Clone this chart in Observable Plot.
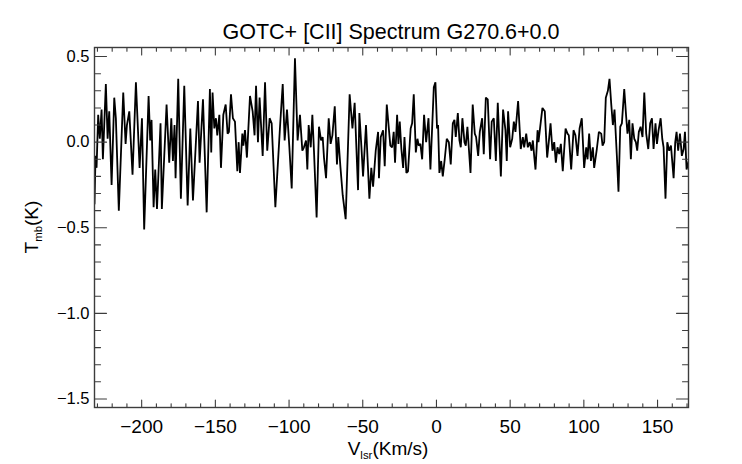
<!DOCTYPE html>
<html><head><meta charset="utf-8">
<script src="https://cdn.jsdelivr.net/npm/d3@7"></script>
<script src="https://cdn.jsdelivr.net/npm/@observablehq/plot@0.6"></script>
<style>
html,body{margin:0;padding:0;background:#fff;}
#chart{width:742px;height:464px;}
</style></head><body><div id="chart"></div>
<script>
const title = "GOTC+ [CII] Spectrum G270.6+0.0";
const xLabelParts = ["V", "lsr", "(Km/s)"];
const yLabelParts = ["T", "mb", "(K)"];
const xMajorTicks = [-200, -150, -100, -50, 0, 50, 100, 150];
const yMajorTicks = [-1.5, -1.0, -0.5, 0.0, 0.5];
const xMinorTicks = d3.range(-230, 171, 10).filter(v => v % 50 !== 0);
const yMinorTicks = d3.range(-15, 6, 1).map(v => v / 10).filter(v => Math.abs(v * 2 - Math.round(v * 2)) > 1e-9);

// velocity (km/s)
const vel = [
-232.0,-231.3,-230.6,-229.5,-228.4,-227.2,-226.3,-224.3,-223.1,-222.0,-220.4,-218.6,-217.5,-215.5,-212.5,-210.9,-210.0,-208.4,-206.2,-203.9,-201.4,-199.8,-198.3,-195.3,-194.2,-193.3,-191.9,-190.8,-189.6,-187.2,-186.3,-183.1,-181.3,-179.9,-178.8,-177.7,-177.0,-175.2,-173.4,-171.1,-168.8,-167.0,-165.2,-161.8,-160.7,-158.4,-155.9,-153.7,-152.8,-151.9,-150.7,-149.6,-148.7,-147.3,-146.2,-144.6,-143.0,-141.7,-140.8,-139.4,-138.1,-136.7,-135.1,-134.2,-133.3,-131.7,
-131.0,-129.9,-128.6,-126.5,-124.7,-123.4,-122.4,-121.1,-120.0,-117.9,-116.3,-114.8,-113.2,-111.8,-109.3,-106.2,-104.3,-103.0,-101.4,-99.8,-98.2,-96.0,-94.2,-92.6,-91.0,-89.9,-88.5,-87.6,-86.7,-85.3,-84.2,-83.1,-81.3,-79.7,-78.3,-77.2,-76.3,-74.9,-73.1,-71.8,-70.6,-69.0,-67.5,-66.6,-65.2,-63.6,-61.6,-58.9,-57.0,-55.5,-53.2,-52.3,-50.9,-49.8,-47.8,-45.5,-44.2,-43.0,-41.2,-39.6,-39.0,-37.8,-36.2,-35.1,-33.7,-31.3,
-30.1,-29.0,-28.1,-26.7,-25.8,-24.9,-23.8,-22.6,-21.7,-20.4,-19.3,-17.5,-16.5,-15.4,-14.0,-12.9,-12.0,-10.9,-9.7,-8.4,-7.0,-5.4,-4.1,-1.8,-0.7,0.4,1.1,2.0,3.2,4.3,5.6,7.0,8.4,9.7,11.1,12.2,13.1,14.5,15.6,16.5,17.6,19.0,19.9,21.0,23.1,24.6,26.0,26.9,28.3,29.4,31.0,32.1,33.5,34.8,36.4,37.5,38.9,40.3,41.6,43.7,45.2,46.8,47.7,48.6,50.0,51.4,52.5,53.6,55.4,57.2,58.6,59.5,60.9,62.0,63.3,64.5,65.4,66.3,67.2,68.6,69.2,
70.8,71.9,73.5,75.1,76.2,77.4,78.7,79.9,81.0,82.1,83.3,84.4,85.7,87.6,88.9,89.8,91.4,93.0,94.3,95.7,97.1,98.6,100.2,101.6,102.5,103.6,104.8,106.1,107.0,108.8,110.2,111.8,112.7,113.8,114.9,116.3,117.4,118.6,119.7,120.8,122.4,123.5,124.7,125.8,127.4,128.7,129.6,130.8,131.9,133.0,134.2,135.3,136.2,137.3,138.5,139.8,141.0,142.3,143.7,145.0,146.2,147.3,148.6,149.6,150.7,152.1,153.2,154.1,155.4,156.6,157.9,159.1,160.9,162.0,162.9,164.0,165.2,166.5,167.7,168.6,169.7,171.1
];
// main-beam temperature (K)
const tmb = [
-0.36,-0.08,-0.15,0.16,0.02,0.19,-0.10,0.34,0.02,0.18,-0.25,0.26,0.14,-0.40,0.29,-0.01,0.10,0.18,-0.19,0.35,-0.15,0.14,-0.51,0.27,0.01,0.13,-0.38,-0.16,-0.39,0.11,-0.39,0.22,-0.12,0.14,-0.11,0.10,-0.21,0.37,-0.33,0.33,-0.37,0.08,-0.34,0.24,-0.12,0.25,-0.41,0.31,-0.06,0.29,0.08,0.14,0.04,0.16,-0.15,0.16,0.22,0.05,0.06,0.28,0.14,0.12,-0.17,0.00,-0.18,0.05,
-0.02,0.07,-0.09,0.27,0.18,0.04,0.33,0.00,0.26,-0.08,0.35,-0.05,0.14,0.11,-0.38,0.08,0.34,0.01,0.19,-0.03,-0.27,0.49,0.01,0.16,-0.05,-0.03,0.01,-0.16,0.10,-0.03,0.16,-0.05,-0.44,0.09,0.01,0.03,-0.09,-0.21,0.14,-0.01,0.04,0.21,-0.13,0.03,-0.14,-0.31,-0.45,0.28,0.08,0.23,-0.28,0.17,-0.03,-0.20,0.10,-0.33,-0.15,-0.26,-0.05,0.06,-0.21,0.03,0.07,-0.14,0.22,-0.02,
-0.03,0.06,-0.12,0.16,-0.01,0.12,-0.04,-0.15,0.03,-0.18,-0.17,0.08,0.11,0.28,-0.06,0.02,-0.02,-0.01,-0.10,0.16,0.00,0.14,-0.16,0.32,0.35,0.08,0.10,-0.18,-0.11,-0.20,-0.10,0.02,0.00,-0.13,0.11,0.13,0.03,0.17,0.01,-0.03,0.14,0.00,-0.02,0.09,-0.18,0.22,0.05,0.03,-0.08,0.06,0.14,-0.07,0.26,0.25,-0.10,0.12,0.14,-0.11,0.23,-0.20,0.19,0.07,-0.11,0.18,-0.03,0.02,0.12,0.06,0.24,-0.04,0.03,-0.03,0.05,-0.03,0.00,-0.05,0.01,-0.08,-0.16,0.07,0.00,
0.12,0.20,0.18,-0.09,0.00,0.11,-0.05,0.00,-0.12,-0.03,-0.07,-0.01,-0.17,0.08,0.05,0.04,-0.16,0.07,0.04,-0.08,0.08,0.14,-0.15,-0.03,-0.10,0.05,-0.11,-0.03,-0.15,-0.04,0.06,0.05,-0.02,0.00,0.26,0.30,0.37,0.22,0.10,0.19,-0.08,-0.29,0.09,0.11,0.31,0.15,0.05,0.13,-0.10,0.11,0.02,0.00,-0.05,0.06,0.09,0.03,0.29,0.05,-0.04,0.11,0.14,-0.04,0.11,-0.01,0.07,0.14,0.02,-0.03,-0.33,0.00,-0.05,-0.02,-0.21,0.00,0.06,-0.05,0.05,-0.08,-0.04,0.06,-0.16,-0.11
];

const n = Math.min(vel.length, tmb.length);
const data = d3.range(n).map(i => ({v: vel[i], t: tmb[i]}));

const font = "'Liberation Sans', Arial, Helvetica, sans-serif";
const axisColor = "#3c3c3c";
const tickShape = {draw(ctx, l) { ctx.moveTo(0, 0); ctx.lineTo(0, -l); }};
const tickOpts = {anchor: "start", shape: tickShape, stroke: axisColor, strokeWidth: 1.1};

const plot = Plot.plot({
  width: 742, height: 464,
  marginLeft: 94, marginRight: 54, marginTop: 47, marginBottom: 57,
  style: {fontFamily: font, background: "white", color: "black", overflow: "visible"},
  x: {domain: [-232, 171]},
  y: {domain: [-1.55, 0.553]},
  marks: [
    Plot.line(data, {x: "v", y: "t", stroke: "black", strokeWidth: 1.8, strokeLinejoin: "miter", clip: true}),
    Plot.vector(xMajorTicks, {x: d => d, frameAnchor: "bottom", rotate: 0, length: 7.5, ...tickOpts}),
    Plot.vector(xMinorTicks, {x: d => d, frameAnchor: "bottom", rotate: 0, length: 3.7, ...tickOpts}),
    Plot.vector(xMajorTicks, {x: d => d, frameAnchor: "top", rotate: 180, length: 7.5, ...tickOpts}),
    Plot.vector(xMinorTicks, {x: d => d, frameAnchor: "top", rotate: 180, length: 3.7, ...tickOpts}),
    Plot.vector(yMajorTicks, {y: d => d, frameAnchor: "left", rotate: 90, length: 12, ...tickOpts}),
    Plot.vector(yMinorTicks, {y: d => d, frameAnchor: "left", rotate: 90, length: 6, ...tickOpts}),
    Plot.vector(yMajorTicks, {y: d => d, frameAnchor: "right", rotate: -90, length: 12, ...tickOpts}),
    Plot.vector(yMinorTicks, {y: d => d, frameAnchor: "right", rotate: -90, length: 6, ...tickOpts}),
    Plot.frame({stroke: axisColor, strokeWidth: 1.4}),
    Plot.axisX({ticks: xMajorTicks, tickSize: 0, tickPadding: 12, fontSize: 19, tickFormat: d3.format("d"), label: null}),
    Plot.axisY({ticks: yMajorTicks, tickSize: 0, tickPadding: 5, fontSize: 16.5, tickFormat: d3.format(".1f"), label: null})
  ]
});

document.getElementById("chart").appendChild(plot);

const svgSel = d3.select(plot);
const xr = plot.scale("x").range;
const yr = plot.scale("y").range;
const centerX = (xr[0] + xr[1]) / 2;
const frameTop = Math.min(yr[0], yr[1]);
const frameBottom = Math.max(yr[0], yr[1]);
const centerY = (frameTop + frameBottom) / 2;

svgSel.append("text")
  .attr("x", centerX).attr("y", frameTop - 8)
  .attr("text-anchor", "middle")
  .attr("font-family", font).attr("font-size", 21.5).attr("fill", "black")
  .text(title);

function subLabel(sel, parts, size) {
  sel.append("tspan").text(parts[0]);
  sel.append("tspan").attr("font-size", size * 0.6).attr("dy", size * 0.22).text(parts[1]);
  sel.append("tspan").attr("dy", -size * 0.22).text(parts[2]);
}

const xl = svgSel.append("text")
  .attr("x", centerX - 3).attr("y", frameBottom + 47.5)
  .attr("text-anchor", "middle")
  .attr("font-family", font).attr("font-size", 19).attr("fill", "black");
subLabel(xl, xLabelParts, 19);

const yl = svgSel.append("text")
  .attr("transform", `translate(${xr[0] - 56},${centerY}) rotate(-90)`)
  .attr("text-anchor", "middle")
  .attr("font-family", font).attr("font-size", 19).attr("fill", "black");
subLabel(yl, yLabelParts, 19);
</script>
</body></html>
